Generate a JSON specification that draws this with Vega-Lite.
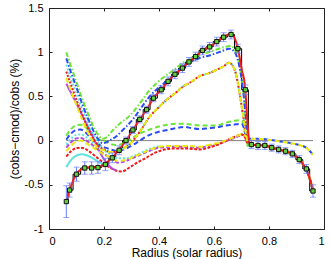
{
"$schema":"https://vega.github.io/schema/vega-lite/v6.json",
"width":275,"height":221,
"autosize":{"type":"none"},
"padding":{"left":49,"top":8,"right":8,"bottom":30},
"background":"white",
"config":{"view":{"stroke":"#222","strokeWidth":1},"font":"Liberation Sans",
"axis":{"grid":false,"domain":false,"tickColor":"#222","tickSize":-3,"labelFontSize":11,"labelColor":"#000","labelPadding":9,"titleFontSize":12,"titleFontWeight":"normal","titleColor":"#000"}},
"datasets":{
"obs":[
{"r":0.063,"v":-0.69,"lo":-0.87,"hi":-0.51},{"r":0.075,"v":-0.56,"lo":-0.64,"hi":-0.48},{"r":0.1,"v":-0.38,"lo":-0.46,"hi":-0.3},{"r":0.13,"v":-0.31,"lo":-0.38,"hi":-0.24},{"r":0.155,"v":-0.31,"lo":-0.38,"hi":-0.24},{"r":0.178,"v":-0.305,"lo":-0.37,"hi":-0.24},{"r":0.205,"v":-0.27,"lo":-0.34,"hi":-0.2},{"r":0.23,"v":-0.195,"lo":-0.25,"hi":-0.14},{"r":0.255,"v":-0.11,"lo":-0.16,"hi":-0.06},{"r":0.28,"v":0.0,"lo":-0.04,"hi":0.04},{"r":0.305,"v":0.12,"lo":0.08,"hi":0.16},{"r":0.33,"v":0.24,"lo":0.2,"hi":0.28},{"r":0.355,"v":0.35,"lo":0.31,"hi":0.39},{"r":0.38,"v":0.48,"lo":0.44,"hi":0.52},{"r":0.408,"v":0.575,"lo":0.53,"hi":0.62},{"r":0.433,"v":0.67,"lo":0.62,"hi":0.72},{"r":0.458,"v":0.75,"lo":0.7,"hi":0.8},{"r":0.485,"v":0.82,"lo":0.77,"hi":0.87},{"r":0.509,"v":0.89,"lo":0.84,"hi":0.94},{"r":0.533,"v":0.95,"lo":0.9,"hi":1.0},{"r":0.558,"v":1.02,"lo":0.97,"hi":1.07},{"r":0.584,"v":1.06,"lo":1.01,"hi":1.11},{"r":0.61,"v":1.12,"lo":1.07,"hi":1.17},{"r":0.635,"v":1.17,"lo":1.12,"hi":1.22},{"r":0.662,"v":1.2,"lo":1.15,"hi":1.25},{"r":0.687,"v":1.04,"lo":0.99,"hi":1.09},{"r":0.714,"v":0.575,"lo":0.52,"hi":0.63},{"r":0.736,"v":-0.045,"lo":-0.09,"hi":0.0},{"r":0.76,"v":-0.055,"lo":-0.1,"hi":-0.01},{"r":0.785,"v":-0.055,"lo":-0.1,"hi":-0.01},{"r":0.81,"v":-0.08,"lo":-0.12,"hi":-0.04},{"r":0.835,"v":-0.1,"lo":-0.14,"hi":-0.06},{"r":0.86,"v":-0.12,"lo":-0.16,"hi":-0.08},{"r":0.885,"v":-0.15,"lo":-0.19,"hi":-0.11},{"r":0.91,"v":-0.215,"lo":-0.26,"hi":-0.17},{"r":0.936,"v":-0.32,"lo":-0.37,"hi":-0.27},{"r":0.96,"v":-0.57,"lo":-0.64,"hi":-0.5}
],
"zero":[{"r":0.063,"v":0},{"r":0.96,"v":0}],
"curves":[
{"s":"01","r":0.063,"v":-0.3},{"s":"01","r":0.08,"v":-0.22},{"s":"01","r":0.1,"v":-0.17},{"s":"01","r":0.12,"v":-0.155},{"s":"01","r":0.14,"v":-0.17},{"s":"01","r":0.16,"v":-0.2},{"s":"01","r":0.18,"v":-0.24},{"s":"01","r":0.2,"v":-0.27},{"s":"01","r":0.215,"v":-0.29},
{"s":"02","r":0.063,"v":0.055},{"s":"02","r":0.08,"v":0.13},{"s":"02","r":0.1,"v":0.175},{"s":"02","r":0.115,"v":0.18},{"s":"02","r":0.13,"v":0.16},{"s":"02","r":0.15,"v":0.1},{"s":"02","r":0.17,"v":0.04},{"s":"02","r":0.19,"v":0.005},{"s":"02","r":0.205,"v":-0.01},{"s":"02","r":0.225,"v":-0.04},{"s":"02","r":0.25,"v":-0.05},{"s":"02","r":0.27,"v":-0.03},{"s":"02","r":0.293,"v":0.01},{"s":"02","r":0.33,"v":0.08},{"s":"02","r":0.366,"v":0.125},{"s":"02","r":0.4,"v":0.16},{"s":"02","r":0.43,"v":0.18},{"s":"02","r":0.46,"v":0.19},{"s":"02","r":0.49,"v":0.19},{"s":"02","r":0.52,"v":0.18},{"s":"02","r":0.55,"v":0.17},{"s":"02","r":0.58,"v":0.17},{"s":"02","r":0.61,"v":0.17},{"s":"02","r":0.64,"v":0.2},{"s":"02","r":0.67,"v":0.22},{"s":"02","r":0.69,"v":0.23},{"s":"02","r":0.703,"v":0.22},{"s":"02","r":0.712,"v":0.1},{"s":"02","r":0.72,"v":0.0},{"s":"02","r":0.73,"v":-0.04},{"s":"02","r":0.745,"v":-0.05},{"s":"02","r":0.76,"v":-0.05},{"s":"02","r":0.785,"v":-0.055},{"s":"02","r":0.81,"v":-0.08},{"s":"02","r":0.835,"v":-0.1},{"s":"02","r":0.86,"v":-0.12},{"s":"02","r":0.885,"v":-0.15},{"s":"02","r":0.91,"v":-0.21},{"s":"02","r":0.93,"v":-0.3},{"s":"02","r":0.945,"v":-0.4},{"s":"02","r":0.96,"v":-0.57},
{"s":"03","r":0.063,"v":0.01},{"s":"03","r":0.08,"v":0.08},{"s":"03","r":0.1,"v":0.12},{"s":"03","r":0.115,"v":0.125},{"s":"03","r":0.13,"v":0.1},{"s":"03","r":0.15,"v":0.04},{"s":"03","r":0.17,"v":-0.02},{"s":"03","r":0.19,"v":-0.06},{"s":"03","r":0.205,"v":-0.08},{"s":"03","r":0.225,"v":-0.1},{"s":"03","r":0.25,"v":-0.12},{"s":"03","r":0.28,"v":-0.09},{"s":"03","r":0.305,"v":-0.05},{"s":"03","r":0.335,"v":0.01},{"s":"03","r":0.366,"v":0.065},{"s":"03","r":0.4,"v":0.1},{"s":"03","r":0.43,"v":0.12},{"s":"03","r":0.46,"v":0.14},{"s":"03","r":0.49,"v":0.155},{"s":"03","r":0.52,"v":0.14},{"s":"03","r":0.55,"v":0.13},{"s":"03","r":0.58,"v":0.14},{"s":"03","r":0.61,"v":0.15},{"s":"03","r":0.64,"v":0.17},{"s":"03","r":0.67,"v":0.18},{"s":"03","r":0.7,"v":0.19},{"s":"03","r":0.708,"v":0.15},{"s":"03","r":0.716,"v":0.05},{"s":"03","r":0.725,"v":0.02},{"s":"03","r":0.74,"v":0.02},{"s":"03","r":0.76,"v":0.02},{"s":"03","r":0.8,"v":0.01},{"s":"03","r":0.84,"v":-0.01},{"s":"03","r":0.88,"v":-0.03},{"s":"03","r":0.91,"v":-0.05},{"s":"03","r":0.935,"v":-0.08},{"s":"03","r":0.96,"v":-0.16},
{"s":"04","r":0.063,"v":-0.045},{"s":"04","r":0.08,"v":0.02},{"s":"04","r":0.1,"v":0.065},{"s":"04","r":0.115,"v":0.07},{"s":"04","r":0.13,"v":0.05},{"s":"04","r":0.15,"v":0.0},{"s":"04","r":0.17,"v":-0.05},{"s":"04","r":0.19,"v":-0.09},{"s":"04","r":0.205,"v":-0.12},{"s":"04","r":0.225,"v":-0.16},{"s":"04","r":0.25,"v":-0.2},{"s":"04","r":0.28,"v":-0.2},{"s":"04","r":0.31,"v":-0.17},{"s":"04","r":0.34,"v":-0.13},{"s":"04","r":0.37,"v":-0.09},{"s":"04","r":0.4,"v":-0.065},
{"s":"05","r":0.063,"v":-0.08},{"s":"05","r":0.08,"v":-0.02},{"s":"05","r":0.1,"v":0.025},{"s":"05","r":0.115,"v":0.03},{"s":"05","r":0.13,"v":0.01},{"s":"05","r":0.15,"v":-0.03},{"s":"05","r":0.17,"v":-0.08},{"s":"05","r":0.19,"v":-0.13},{"s":"05","r":0.21,"v":-0.17},{"s":"05","r":0.23,"v":-0.21},{"s":"05","r":0.25,"v":-0.25},{"s":"05","r":0.28,"v":-0.23},{"s":"05","r":0.31,"v":-0.19},{"s":"05","r":0.34,"v":-0.15},{"s":"05","r":0.37,"v":-0.11},{"s":"05","r":0.4,"v":-0.08},{"s":"05","r":0.45,"v":-0.07},{"s":"05","r":0.5,"v":-0.07},{"s":"05","r":0.55,"v":-0.08},{"s":"05","r":0.58,"v":-0.06},{"s":"05","r":0.61,"v":-0.04},{"s":"05","r":0.64,"v":-0.01},{"s":"05","r":0.665,"v":0.02},{"s":"05","r":0.69,"v":0.05},{"s":"05","r":0.7,"v":0.07},{"s":"05","r":0.712,"v":0.05},{"s":"05","r":0.725,"v":-0.04},{"s":"05","r":0.745,"v":-0.05},{"s":"05","r":0.76,"v":-0.05},{"s":"05","r":0.785,"v":-0.055},{"s":"05","r":0.81,"v":-0.08},{"s":"05","r":0.835,"v":-0.1},{"s":"05","r":0.86,"v":-0.12},{"s":"05","r":0.885,"v":-0.15},{"s":"05","r":0.91,"v":-0.21},{"s":"05","r":0.93,"v":-0.3},{"s":"05","r":0.945,"v":-0.4},{"s":"05","r":0.96,"v":-0.57},
{"s":"06","r":0.063,"v":-0.18},{"s":"06","r":0.08,"v":-0.12},{"s":"06","r":0.1,"v":-0.085},{"s":"06","r":0.115,"v":-0.08},{"s":"06","r":0.13,"v":-0.09},{"s":"06","r":0.15,"v":-0.13},{"s":"06","r":0.17,"v":-0.18},{"s":"06","r":0.19,"v":-0.23},{"s":"06","r":0.21,"v":-0.28},{"s":"06","r":0.23,"v":-0.32},{"s":"06","r":0.25,"v":-0.345},{"s":"06","r":0.265,"v":-0.35},{"s":"06","r":0.29,"v":-0.31},{"s":"06","r":0.32,"v":-0.25},{"s":"06","r":0.35,"v":-0.2},{"s":"06","r":0.378,"v":-0.15},{"s":"06","r":0.41,"v":-0.11},{"s":"06","r":0.45,"v":-0.09},{"s":"06","r":0.5,"v":-0.09},{"s":"06","r":0.55,"v":-0.1},{"s":"06","r":0.58,"v":-0.08},{"s":"06","r":0.61,"v":-0.05},{"s":"06","r":0.64,"v":-0.01},{"s":"06","r":0.665,"v":0.03},{"s":"06","r":0.69,"v":0.06},{"s":"06","r":0.7,"v":0.07},{"s":"06","r":0.712,"v":0.04},{"s":"06","r":0.725,"v":-0.05},{"s":"06","r":0.745,"v":-0.05},{"s":"06","r":0.76,"v":-0.05},{"s":"06","r":0.785,"v":-0.055},{"s":"06","r":0.81,"v":-0.08},{"s":"06","r":0.835,"v":-0.1},{"s":"06","r":0.86,"v":-0.12},{"s":"06","r":0.885,"v":-0.15},{"s":"06","r":0.91,"v":-0.21},{"s":"06","r":0.93,"v":-0.3},{"s":"06","r":0.945,"v":-0.4},{"s":"06","r":0.96,"v":-0.57},
{"s":"07","r":0.063,"v":0.645},{"s":"07","r":0.08,"v":0.54},{"s":"07","r":0.1,"v":0.42},{"s":"07","r":0.12,"v":0.29},{"s":"07","r":0.14,"v":0.17},{"s":"07","r":0.16,"v":0.04},{"s":"07","r":0.18,"v":-0.1},{"s":"07","r":0.2,"v":-0.21},{"s":"07","r":0.22,"v":-0.29},{"s":"07","r":0.245,"v":-0.34},
{"s":"08","r":0.063,"v":1.0},{"s":"08","r":0.08,"v":0.84},{"s":"08","r":0.1,"v":0.66},{"s":"08","r":0.12,"v":0.48},{"s":"08","r":0.14,"v":0.32},{"s":"08","r":0.16,"v":0.17},{"s":"08","r":0.18,"v":0.06},{"s":"08","r":0.195,"v":0.02},{"s":"08","r":0.21,"v":0.04},{"s":"08","r":0.233,"v":0.12},{"s":"08","r":0.26,"v":0.2},{"s":"08","r":0.293,"v":0.28},{"s":"08","r":0.33,"v":0.42},{"s":"08","r":0.366,"v":0.57},{"s":"08","r":0.395,"v":0.66},{"s":"08","r":0.427,"v":0.74},{"s":"08","r":0.455,"v":0.8},{"s":"08","r":0.487,"v":0.88},{"s":"08","r":0.52,"v":0.93},{"s":"08","r":0.548,"v":0.97},{"s":"08","r":0.58,"v":1.0},{"s":"08","r":0.609,"v":1.03},{"s":"08","r":0.64,"v":1.06},{"s":"08","r":0.66,"v":1.07},{"s":"08","r":0.675,"v":1.03},{"s":"08","r":0.69,"v":0.9},{"s":"08","r":0.7,"v":0.72},{"s":"08","r":0.71,"v":0.45},{"s":"08","r":0.718,"v":0.1},{"s":"08","r":0.722,"v":-0.06},{"s":"08","r":0.73,"v":-0.04},{"s":"08","r":0.745,"v":-0.05},{"s":"08","r":0.76,"v":-0.05},{"s":"08","r":0.785,"v":-0.055},{"s":"08","r":0.81,"v":-0.08},{"s":"08","r":0.835,"v":-0.1},{"s":"08","r":0.86,"v":-0.12},{"s":"08","r":0.885,"v":-0.15},{"s":"08","r":0.91,"v":-0.21},{"s":"08","r":0.93,"v":-0.3},{"s":"08","r":0.945,"v":-0.4},{"s":"08","r":0.96,"v":-0.57},
{"s":"09","r":0.063,"v":0.93},{"s":"09","r":0.08,"v":0.77},{"s":"09","r":0.1,"v":0.6},{"s":"09","r":0.12,"v":0.42},{"s":"09","r":0.14,"v":0.26},{"s":"09","r":0.16,"v":0.12},{"s":"09","r":0.18,"v":0.01},{"s":"09","r":0.196,"v":-0.03},{"s":"09","r":0.22,"v":0.0},{"s":"09","r":0.245,"v":0.05},{"s":"09","r":0.275,"v":0.14},{"s":"09","r":0.305,"v":0.24},{"s":"09","r":0.335,"v":0.37},{"s":"09","r":0.366,"v":0.5},{"s":"09","r":0.395,"v":0.59},{"s":"09","r":0.427,"v":0.67},{"s":"09","r":0.455,"v":0.75},{"s":"09","r":0.487,"v":0.84},{"s":"09","r":0.52,"v":0.9},{"s":"09","r":0.548,"v":0.935},{"s":"09","r":0.58,"v":0.96},{"s":"09","r":0.609,"v":0.99},{"s":"09","r":0.635,"v":1.02},{"s":"09","r":0.655,"v":1.04},{"s":"09","r":0.67,"v":1.02},{"s":"09","r":0.685,"v":0.93},{"s":"09","r":0.7,"v":0.7},{"s":"09","r":0.71,"v":0.45},{"s":"09","r":0.72,"v":0.1},{"s":"09","r":0.73,"v":-0.04},{"s":"09","r":0.745,"v":-0.05},{"s":"09","r":0.76,"v":-0.05},{"s":"09","r":0.785,"v":-0.055},{"s":"09","r":0.81,"v":-0.08},{"s":"09","r":0.835,"v":-0.1},{"s":"09","r":0.86,"v":-0.12},{"s":"09","r":0.885,"v":-0.15},{"s":"09","r":0.91,"v":-0.21},{"s":"09","r":0.93,"v":-0.3},{"s":"09","r":0.945,"v":-0.4},{"s":"09","r":0.96,"v":-0.57},
{"s":"10","r":0.063,"v":0.86},{"s":"10","r":0.08,"v":0.7},{"s":"10","r":0.1,"v":0.53},{"s":"10","r":0.12,"v":0.36},{"s":"10","r":0.14,"v":0.21},{"s":"10","r":0.16,"v":0.08},{"s":"10","r":0.18,"v":-0.03},{"s":"10","r":0.2,"v":-0.1},{"s":"10","r":0.225,"v":-0.13},{"s":"10","r":0.25,"v":-0.12},{"s":"10","r":0.275,"v":-0.08},{"s":"10","r":0.3,"v":-0.02},{"s":"10","r":0.33,"v":0.1},{"s":"10","r":0.366,"v":0.27},{"s":"10","r":0.4,"v":0.38},{"s":"10","r":0.427,"v":0.46},{"s":"10","r":0.46,"v":0.54},{"s":"10","r":0.487,"v":0.61},{"s":"10","r":0.52,"v":0.67},{"s":"10","r":0.548,"v":0.73},{"s":"10","r":0.58,"v":0.76},{"s":"10","r":0.609,"v":0.8},{"s":"10","r":0.635,"v":0.84},{"s":"10","r":0.655,"v":0.88},{"s":"10","r":0.665,"v":0.86},{"s":"10","r":0.68,"v":0.75},{"s":"10","r":0.695,"v":0.5},{"s":"10","r":0.705,"v":0.3},{"s":"10","r":0.715,"v":0.1},{"s":"10","r":0.725,"v":-0.03},{"s":"10","r":0.745,"v":-0.05},
{"s":"11","r":0.063,"v":0.78},{"s":"11","r":0.08,"v":0.63},{"s":"11","r":0.1,"v":0.46},{"s":"11","r":0.12,"v":0.3},{"s":"11","r":0.14,"v":0.15},{"s":"11","r":0.16,"v":0.03},{"s":"11","r":0.18,"v":-0.06},{"s":"11","r":0.2,"v":-0.1},{"s":"11","r":0.225,"v":-0.13},{"s":"11","r":0.25,"v":-0.12},{"s":"11","r":0.275,"v":-0.08},{"s":"11","r":0.3,"v":-0.02},{"s":"11","r":0.33,"v":0.1},{"s":"11","r":0.366,"v":0.27},{"s":"11","r":0.4,"v":0.38},{"s":"11","r":0.427,"v":0.46},{"s":"11","r":0.46,"v":0.54},{"s":"11","r":0.487,"v":0.61},{"s":"11","r":0.52,"v":0.67},{"s":"11","r":0.548,"v":0.73},{"s":"11","r":0.58,"v":0.76},{"s":"11","r":0.609,"v":0.8},{"s":"11","r":0.635,"v":0.84},{"s":"11","r":0.655,"v":0.88},{"s":"11","r":0.665,"v":0.86},{"s":"11","r":0.68,"v":0.75},{"s":"11","r":0.695,"v":0.5},{"s":"11","r":0.705,"v":0.3},{"s":"11","r":0.715,"v":0.1},{"s":"11","r":0.725,"v":-0.03},{"s":"11","r":0.745,"v":-0.05},{"s":"11","r":0.76,"v":-0.05},{"s":"11","r":0.785,"v":-0.055},{"s":"11","r":0.81,"v":-0.08},{"s":"11","r":0.835,"v":-0.1},{"s":"11","r":0.86,"v":-0.12},{"s":"11","r":0.885,"v":-0.15},{"s":"11","r":0.91,"v":-0.21},{"s":"11","r":0.93,"v":-0.3},{"s":"11","r":0.945,"v":-0.4},{"s":"11","r":0.96,"v":-0.57},
{"s":"12","r":0.063,"v":0.71},{"s":"12","r":0.08,"v":0.56},{"s":"12","r":0.1,"v":0.4},{"s":"12","r":0.12,"v":0.24},{"s":"12","r":0.14,"v":0.1},{"s":"12","r":0.16,"v":-0.01},{"s":"12","r":0.18,"v":-0.09},{"s":"12","r":0.2,"v":-0.11},{"s":"12","r":0.225,"v":-0.13},{"s":"12","r":0.25,"v":-0.12},{"s":"12","r":0.275,"v":-0.08},{"s":"12","r":0.3,"v":-0.02},{"s":"12","r":0.33,"v":0.1},{"s":"12","r":0.366,"v":0.27},{"s":"12","r":0.4,"v":0.38},{"s":"12","r":0.427,"v":0.46},{"s":"12","r":0.46,"v":0.54},{"s":"12","r":0.487,"v":0.61},{"s":"12","r":0.52,"v":0.67},{"s":"12","r":0.548,"v":0.73},{"s":"12","r":0.58,"v":0.76},{"s":"12","r":0.609,"v":0.8},{"s":"12","r":0.635,"v":0.84},{"s":"12","r":0.655,"v":0.88},{"s":"12","r":0.665,"v":0.86},{"s":"12","r":0.68,"v":0.75},{"s":"12","r":0.695,"v":0.5},{"s":"12","r":0.705,"v":0.3},{"s":"12","r":0.715,"v":0.1},{"s":"12","r":0.725,"v":-0.03},{"s":"12","r":0.745,"v":-0.05},{"s":"12","r":0.76,"v":-0.05},{"s":"12","r":0.785,"v":-0.055},{"s":"12","r":0.81,"v":-0.08},{"s":"12","r":0.835,"v":-0.1},{"s":"12","r":0.86,"v":-0.12},{"s":"12","r":0.885,"v":-0.15},{"s":"12","r":0.91,"v":-0.21},{"s":"12","r":0.93,"v":-0.3},{"s":"12","r":0.945,"v":-0.4},{"s":"12","r":0.96,"v":-0.57},
{"s":"13","r":0.063,"v":-0.12},{"s":"13","r":0.08,"v":-0.06},{"s":"13","r":0.1,"v":-0.01},{"s":"13","r":0.115,"v":0.0},{"s":"13","r":0.13,"v":-0.02},{"s":"13","r":0.15,"v":-0.06},{"s":"13","r":0.17,"v":-0.1},{"s":"13","r":0.19,"v":-0.14},{"s":"13","r":0.21,"v":-0.17},{"s":"13","r":0.23,"v":-0.2},{"s":"13","r":0.25,"v":-0.23},{"s":"13","r":0.28,"v":-0.22},{"s":"13","r":0.31,"v":-0.18},{"s":"13","r":0.34,"v":-0.14},{"s":"13","r":0.37,"v":-0.1},{"s":"13","r":0.4,"v":-0.07},{"s":"13","r":0.45,"v":-0.06},{"s":"13","r":0.5,"v":-0.06},{"s":"13","r":0.55,"v":-0.07},{"s":"13","r":0.58,"v":-0.05},{"s":"13","r":0.61,"v":-0.03},{"s":"13","r":0.64,"v":0.0},{"s":"13","r":0.665,"v":0.03},{"s":"13","r":0.69,"v":0.06},{"s":"13","r":0.7,"v":0.075},{"s":"13","r":0.712,"v":0.06},{"s":"13","r":0.725,"v":0.03},{"s":"13","r":0.74,"v":0.02},{"s":"13","r":0.76,"v":0.02},{"s":"13","r":0.8,"v":0.01},{"s":"13","r":0.84,"v":-0.01},{"s":"13","r":0.88,"v":-0.03},{"s":"13","r":0.91,"v":-0.05},{"s":"13","r":0.935,"v":-0.08},{"s":"13","r":0.96,"v":-0.16},
{"s":"14","r":0.063,"v":-0.69},{"s":"14","r":0.075,"v":-0.56},{"s":"14","r":0.1,"v":-0.38},{"s":"14","r":0.13,"v":-0.31},{"s":"14","r":0.155,"v":-0.3},{"s":"14","r":0.178,"v":-0.3},{"s":"14","r":0.205,"v":-0.26},{"s":"14","r":0.23,"v":-0.19},{"s":"14","r":0.255,"v":-0.1},{"s":"14","r":0.28,"v":0.0},{"s":"14","r":0.305,"v":0.12},{"s":"14","r":0.33,"v":0.24},{"s":"14","r":0.355,"v":0.35},{"s":"14","r":0.38,"v":0.48},{"s":"14","r":0.408,"v":0.575},{"s":"14","r":0.433,"v":0.67},{"s":"14","r":0.458,"v":0.75},{"s":"14","r":0.485,"v":0.82},{"s":"14","r":0.509,"v":0.89},{"s":"14","r":0.533,"v":0.95},{"s":"14","r":0.558,"v":1.02},{"s":"14","r":0.584,"v":1.06},{"s":"14","r":0.61,"v":1.12},{"s":"14","r":0.635,"v":1.17},{"s":"14","r":0.662,"v":1.21},{"s":"14","r":0.675,"v":1.16},{"s":"14","r":0.687,"v":1.04},{"s":"14","r":0.7,"v":0.82},{"s":"14","r":0.714,"v":0.57},{"s":"14","r":0.722,"v":0.2},{"s":"14","r":0.73,"v":-0.04},{"s":"14","r":0.745,"v":-0.05},{"s":"14","r":0.76,"v":-0.05},{"s":"14","r":0.785,"v":-0.055},{"s":"14","r":0.81,"v":-0.08},{"s":"14","r":0.835,"v":-0.1},{"s":"14","r":0.86,"v":-0.12},{"s":"14","r":0.885,"v":-0.15},{"s":"14","r":0.91,"v":-0.21},{"s":"14","r":0.93,"v":-0.3},{"s":"14","r":0.945,"v":-0.4},{"s":"14","r":0.96,"v":-0.57}
]},
"resolve":{"axis":{"x":"independent","y":"independent"}},
"layer":[
{"data":{"name":"zero"},"mark":{"type":"line","color":"#7f7f7f","strokeWidth":1},
"encoding":{"x":{"field":"r","type":"quantitative","scale":{"domain":[0,1],"nice":false,"zero":false},"axis":{"orient":"top","labels":false,"title":null,"values":[0,0.2,0.4,0.6,0.8,1]}},
"y":{"field":"v","type":"quantitative","scale":{"domain":[-1,1.5],"nice":false,"zero":false},"axis":{"orient":"right","labels":false,"title":null,"values":[-1,-0.5,0,0.5,1,1.5]}}}},
{"data":{"name":"obs"},"mark":{"type":"line","color":"#000","strokeWidth":1,"interpolate":"step"},
"encoding":{"x":{"field":"r","type":"quantitative","scale":{"domain":[0,1],"nice":false,"zero":false},"axis":null},"y":{"field":"v","type":"quantitative","scale":{"domain":[-1,1.5],"nice":false,"zero":false},"axis":null}}},
{"data":{"name":"curves"},"mark":{"type":"line","strokeWidth":2,"interpolate":"monotone"},
"encoding":{"x":{"field":"r","type":"quantitative","scale":{"domain":[0,1],"nice":false,"zero":false},"axis":{"orient":"bottom","title":"Radius (solar radius)","titlePadding":1,"values":[0,0.2,0.4,0.6,0.8,1],"labelExpr":"'' + datum.value"}},
"y":{"field":"v","type":"quantitative","scale":{"domain":[-1,1.5],"nice":false,"zero":false},"axis":{"orient":"left","title":"(cobs−cmod)/cobs  (%)","titlePadding":3,"values":[-1,-0.5,0,0.5,1,1.5],"labelExpr":"'' + datum.value"}},
"color":{"field":"s","type":"nominal","legend":null,"scale":{"domain":["01","02","03","04","05","06","07","08","09","10","11","12","13","14"],"range":["#5fe3dc","#6be536","#2b4cf2","#5fe3dc","#b44be1","#f01a1a","#b44be1","#6be536","#2b4cf2","#5fe3dc","#f01a1a","#eaea10","#eaea10","#f01a1a"]}},
"strokeDash":{"field":"s","type":"nominal","legend":null,"scale":{"domain":["01","02","03","04","05","06","07","08","09","10","11","12","13","14"],"range":[[1,0],[5,3],[5,3],[2,2],[4,2],[3,1.5],[1,0],[5,2,1.5,2],[5,2,1.5,2],[2,2],[2,1.5],[5,3],[5,3],[1,0]]}}}},
{"data":{"name":"obs"},"mark":{"type":"rule","color":"#6a7cff","strokeWidth":1},
"encoding":{"x":{"field":"r","type":"quantitative","scale":{"domain":[0,1],"nice":false,"zero":false},"axis":null},"y":{"field":"lo","type":"quantitative","scale":{"domain":[-1,1.5],"nice":false,"zero":false},"axis":null},"y2":{"field":"hi"}}},
{"data":{"name":"obs"},"mark":{"type":"tick","color":"#6a7cff","orient":"horizontal","size":6,"thickness":1},
"encoding":{"x":{"field":"r","type":"quantitative","scale":{"domain":[0,1],"nice":false,"zero":false},"axis":null},"y":{"field":"lo","type":"quantitative","scale":{"domain":[-1,1.5],"nice":false,"zero":false},"axis":null}}},
{"data":{"name":"obs"},"mark":{"type":"tick","color":"#6a7cff","orient":"horizontal","size":6,"thickness":1},
"encoding":{"x":{"field":"r","type":"quantitative","scale":{"domain":[0,1],"nice":false,"zero":false},"axis":null},"y":{"field":"hi","type":"quantitative","scale":{"domain":[-1,1.5],"nice":false,"zero":false},"axis":null}}},
{"data":{"name":"obs"},"mark":{"type":"point","shape":"square","size":18,"filled":true,"fill":"#5fd13a","stroke":"#111","strokeWidth":1,"opacity":1},
"encoding":{"x":{"field":"r","type":"quantitative","scale":{"domain":[0,1],"nice":false,"zero":false},"axis":null},"y":{"field":"v","type":"quantitative","scale":{"domain":[-1,1.5],"nice":false,"zero":false},"axis":null}}}
]
}
